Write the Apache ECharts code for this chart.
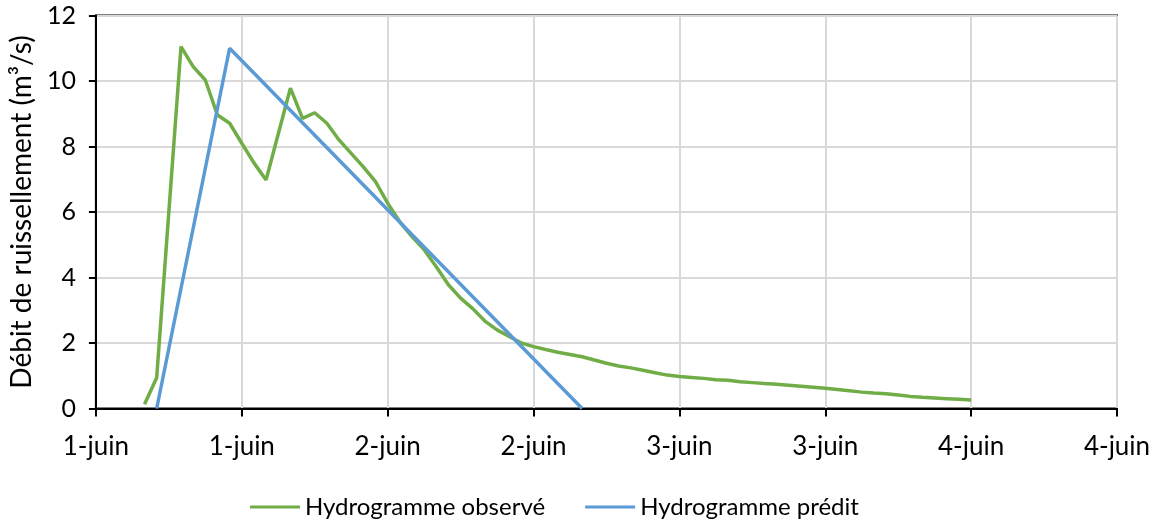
<!DOCTYPE html>
<html>
<head>
<meta charset="utf-8">
<script src="https://cdn.jsdelivr.net/npm/echarts@6/dist/echarts.min.js"></script>
<style>
	html, body { margin: 0; padding: 0; background: #fff; }
	#main { width: 1158px; height: 519px; }
</style>
</head>
<body>
<div id="main"></div>
<script>
// heures depuis le 1-juin 00:00
var obsHours = [4, 5, 6, 7, 8, 9, 10, 11, 12, 13, 14, 15, 16, 17, 18, 19, 20, 21, 22, 23,
	24, 25, 26, 27, 28, 29, 30, 31, 32, 33, 34, 35, 36, 37, 38, 39, 40, 41, 42, 43,
	44, 45, 46, 47, 48, 49, 50, 51, 52, 53, 54, 55, 56, 57, 58, 59, 60, 61, 62, 63,
	64, 65, 66, 67, 68, 69, 70, 71, 72];
var obsFlow = [0.13, 0.94, 6.0, 11.05, 10.44, 10.03, 8.96, 8.71, 8.1, 7.5, 6.98, 8.38, 9.78, 8.86, 9.03, 8.71, 8.2, 7.79, 7.38, 6.93,
	6.27, 5.7, 5.25, 4.85, 4.33, 3.78, 3.37, 3.05, 2.67, 2.4, 2.2, 2.0, 1.89, 1.8, 1.72, 1.65, 1.58, 1.48, 1.38, 1.3,
	1.24, 1.17, 1.09, 1.02, 0.98, 0.95, 0.92, 0.88, 0.86, 0.82, 0.79, 0.76, 0.74, 0.71, 0.68, 0.65, 0.62, 0.58, 0.54, 0.5,
	0.47, 0.45, 0.41, 0.37, 0.34, 0.32, 0.3, 0.28, 0.26];
var predHours = [5, 11, 40];
var predFlow = [0, 11, 0];
var seriesNames = ['Hydrogramme observé', 'Hydrogramme prédit'];

var chart = echarts.init(document.getElementById('main'));
var font = 'Lato';
function pairs(xs, ys) {
	var out = [];
	for (var i = 0; i < xs.length; i++) {
		out.push([xs[i], ys[i]]);
	}
	return out;
}
var option = {
	animation: false,
	textStyle: { fontFamily: font },
	color: ['#70AD47', '#5B9BD5'],
	grid: {
		left: 95, right: 41, top: 15.5, bottom: 110.5,
		show: true, borderColor: '#000', borderWidth: 2
	},
	legend: {
		left: 245, top: 490,
		icon: 'rect',
		itemWidth: 50, itemHeight: 3, itemGap: 40,
		textStyle: { fontFamily: font, fontSize: 24, color: '#000', padding: [0, 0, 0, 0] },
		data: seriesNames
	},
	xAxis: {
		type: 'value', min: 0, max: 84, interval: 12,
		axisLine: { show: true, lineStyle: { color: '#000', width: 2 } },
		axisTick: { show: true, length: 8, lineStyle: { color: '#000', width: 2 } },
		splitLine: { show: true, lineStyle: { color: '#d9d9d9', width: 2 } },
		axisLabel: {
			margin: 25, fontSize: 26, color: '#000', fontFamily: font,
			formatter: function(v) { return (Math.floor(v / 24) + 1) + '-juin'; }
		}
	},
	yAxis: {
		type: 'value', min: 0, max: 12, interval: 2,
		name: 'Débit de ruissellement (m³/s)',
		nameLocation: 'middle', nameGap: 58,
		nameTextStyle: { fontSize: 28, color: '#000', fontFamily: font },
		axisLine: { show: true, lineStyle: { color: '#000', width: 2 } },
		axisTick: { show: true, length: 7, lineStyle: { color: '#000', width: 2 } },
		splitLine: { show: true, lineStyle: { color: '#d9d9d9', width: 2 } },
		axisLabel: { margin: 20, fontSize: 25, color: '#000', fontFamily: font }
	},
	series: [{
		name: seriesNames[0], type: 'line', symbol: 'none',
		lineStyle: { width: 3.5, color: '#70AD47' },
		data: pairs(obsHours, obsFlow)
	}, {
		name: seriesNames[1], type: 'line', symbol: 'none',
		lineStyle: { width: 3.5, color: '#5B9BD5' },
		data: pairs(predHours, predFlow)
	}]
};
chart.setOption(option);
window.onresize = function() { chart.resize(); };
</script>
</body>
</html>
